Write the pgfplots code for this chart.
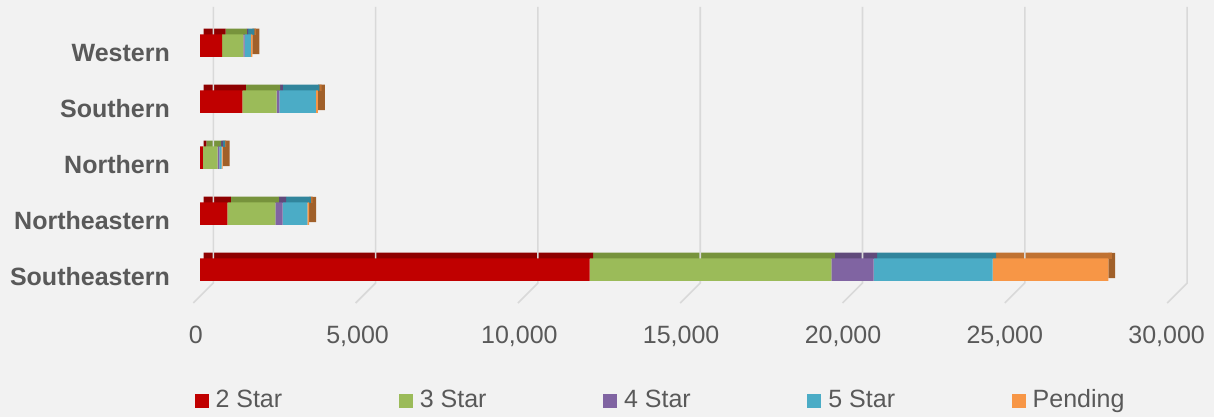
\documentclass[border=0pt]{standalone}
\usepackage{fontspec}
\setmainfont{Liberation Sans}
\usepackage{pgfplots}
\pgfplotsset{compat=1.18}
\usepackage{pgfplotstable}

\definecolor{bg}{HTML}{F2F2F2}
\definecolor{gridc}{HTML}{D9D9D9}
\definecolor{txt}{HTML}{595959}
\definecolor{cA}{HTML}{C00000}
\definecolor{cB}{HTML}{9BBB59}
\definecolor{cC}{HTML}{8064A2}
\definecolor{cD}{HTML}{4BACC6}
\definecolor{cE}{HTML}{F79646}
\definecolor{tA}{HTML}{8E0000}
\definecolor{tB}{HTML}{77933C}
\definecolor{tC}{HTML}{604A7B}
\definecolor{tD}{HTML}{31859C}
\definecolor{tE}{HTML}{C07232}
\definecolor{side}{HTML}{A0602A}

% y: 0 Southeastern, 1 Northeastern, 2 Northern, 3 Southern, 4 Western
\pgfplotstableread{
y  s2    s3   s4   s5   pend side
0  12000 7450 1300 3670 3560 215
1  840   1480 225  760  60   215
2  90    452  51   72   31   215
3  1303  1058 82   1130 62   215
4  680   655  40   195  45   215
}\data

\pgfplotsset{
  base/.style={
    scale only axis, width=1214bp, height=417bp,
    at={(0,0)}, anchor=south west,
    xmin=-6161.4, xmax=31238.4, ymin=-2.630, ymax=4.816,
    enlargelimits=false, xbar stacked, bar width=22.5bp,
    scaled x ticks=false, scaled y ticks=false,
  },
  topf/.style={draw=none, fill=#1, bar width=6.2bp, bar shift=13.95bp, xshift=3.5bp},
}

\newcommand{\lfont}{\fontsize{25bp}{30bp}\selectfont}

\begin{document}
\begin{tikzpicture}
\useasboundingbox (0,0) rectangle (1214bp,417bp);
\fill[bg] (0,0) rectangle (1214bp,417bp);

\begin{axis}[base, hide axis]
  \foreach \x/\xa in {410/-206,5410/4794,10410/9794,15410/14794,20410/19794,25410/24794,30410/29794} {
    \edef\temp{\noexpand\draw[gridc, line width=1.6bp] (axis cs:\x,4.691) -- (axis cs:\x,-0.2375) -- (axis cs:\xa,-0.5946);}
    \temp
  }
  \addplot[topf=tA] table[x=s2,y=y]{\data};
  \addplot[topf=tB] table[x=s3,y=y]{\data};
  \addplot[topf=tC] table[x=s4,y=y]{\data};
  \addplot[topf=tD] table[x=s5,y=y]{\data};
  \addplot[topf=tE] table[x=pend,y=y]{\data};
  \addplot[draw=none, fill=side, bar width=25.35bp, bar shift=4.275bp] table[x=side,y=y]{\data};
\end{axis}

\begin{axis}[base,
  axis line style={draw=none}, tick style={draw=none},
  ytick={0,1,2,3,4},
  yticklabels={Southeastern,Northeastern,Northern,Southern,Western},
  xtick={-132,4853,9838,14823,19808,24793,29778},
  xticklabels={0,{5,000},{10,000},{15,000},{20,000},{25,000},{30,000}},
  xticklabel style={anchor=base, yshift=73bp, font=\lfont, text=txt},
  yticklabel style={anchor=base east, xshift=170bp, yshift=-15.7bp, inner sep=0pt, font=\lfont\bfseries, text=txt},
  legend columns=5,
  legend style={at={(axis description cs:0.16005,0.042)}, anchor=west, draw=none, fill=none, inner sep=0pt,
    nodes={inner sep=0pt, font=\lfont, text=txt},
    /tikz/every odd column/.append style={column sep=7bp},
    /tikz/every even column/.append style={column sep=33.3bp}},
  legend image code/.code={\fill[#1] (0bp,-9bp) rectangle (14bp,5bp);},
]
  \addplot[draw=none, fill=cA] table[x=s2,y=y]{\data};
  \addlegendentry{\makebox[150bp][l]{2 Star}}
  \addplot[draw=none, fill=cB] table[x=s3,y=y]{\data};
  \addlegendentry{\makebox[150bp][l]{3 Star}}
  \addplot[draw=none, fill=cC] table[x=s4,y=y]{\data};
  \addlegendentry{\makebox[150bp][l]{4 Star}}
  \addplot[draw=none, fill=cD] table[x=s5,y=y]{\data};
  \addlegendentry{\makebox[150bp][l]{5 Star}}
  \addplot[draw=none, fill=cE] table[x=pend,y=y]{\data};
  \addlegendentry{\makebox[150bp][l]{Pending}}
\end{axis}
\end{tikzpicture}
\end{document}
